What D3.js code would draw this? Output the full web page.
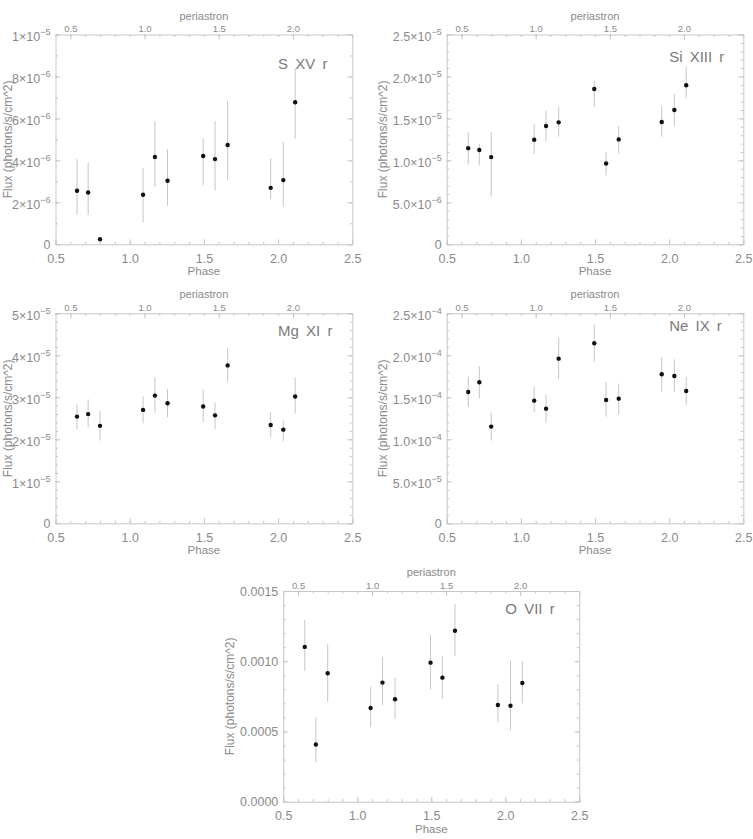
<!DOCTYPE html>
<html><head><meta charset="utf-8">
<script src="https://cdn.jsdelivr.net/npm/d3@7"></script>
<style>
body{margin:0;background:#fff;}
svg text{font-family:"Liberation Sans",Arial,sans-serif;}
</style></head><body>
<svg id="c" width="753" height="839"></svg>
<script>
// ---- data ----
const phase = [0.645, 0.72, 0.80, 1.09, 1.17, 1.255, 1.495, 1.575, 1.66, 1.95, 2.035, 2.115];

const sxvFlux = [2.55e-6, 2.47e-6, 0.24e-6, 2.36e-6, 4.16e-6, 3.03e-6, 4.21e-6, 4.06e-6, 4.73e-6, 2.69e-6, 3.06e-6, 6.77e-6];
const sxvLow  = [1.40e-6, 1.40e-6, 0.24e-6, 1.05e-6, 2.73e-6, 1.83e-6, 2.82e-6, 2.57e-6, 3.06e-6, 2.15e-6, 1.80e-6, 5.02e-6];
const sxvHigh = [4.06e-6, 3.90e-6, 0.24e-6, 3.63e-6, 5.86e-6, 4.53e-6, 5.04e-6, 5.88e-6, 6.85e-6, 4.10e-6, 4.88e-6, 8.40e-6];

const sixiiiFlux = [11.46e-6, 11.23e-6, 10.39e-6, 12.46e-6, 14.09e-6, 14.53e-6, 18.51e-6, 9.63e-6, 12.50e-6, 14.57e-6, 16.00e-6, 18.95e-6];
const sixiiiLow  = [9.51e-6, 9.43e-6, 5.69e-6, 10.79e-6, 12.30e-6, 12.82e-6, 16.36e-6, 8.20e-6, 10.83e-6, 12.82e-6, 14.09e-6, 17.40e-6];
const sixiiiHigh = [13.34e-6, 11.94e-6, 13.38e-6, 14.33e-6, 15.92e-6, 16.36e-6, 19.51e-6, 11.03e-6, 14.13e-6, 16.48e-6, 17.91e-6, 21.10e-6];

const mgxiFlux = [2.54e-5, 2.60e-5, 2.32e-5, 2.70e-5, 3.04e-5, 2.86e-5, 2.78e-5, 2.57e-5, 3.76e-5, 2.34e-5, 2.23e-5, 3.02e-5];
const mgxiLow  = [2.24e-5, 2.28e-5, 1.97e-5, 2.38e-5, 2.63e-5, 2.52e-5, 2.40e-5, 2.25e-5, 3.37e-5, 2.05e-5, 1.95e-5, 2.61e-5];
const mgxiHigh = [2.84e-5, 2.95e-5, 2.67e-5, 3.02e-5, 3.48e-5, 3.20e-5, 3.19e-5, 2.88e-5, 4.17e-5, 2.64e-5, 2.45e-5, 3.47e-5];

const neixFlux = [15.63e-5, 16.79e-5, 11.51e-5, 14.60e-5, 13.65e-5, 19.60e-5, 21.43e-5, 14.68e-5, 14.84e-5, 17.74e-5, 17.54e-5, 15.75e-5];
const neixLow  = [13.81e-5, 14.88e-5, 9.84e-5, 13.21e-5, 11.98e-5, 17.14e-5, 19.25e-5, 12.70e-5, 12.94e-5, 15.67e-5, 15.67e-5, 14.13e-5];
const neixHigh = [17.46e-5, 18.69e-5, 13.17e-5, 16.31e-5, 15.24e-5, 22.10e-5, 23.69e-5, 16.79e-5, 16.63e-5, 19.76e-5, 19.52e-5, 17.42e-5];

const oviiFlux = [11.02e-4, 4.07e-4, 9.14e-4, 6.67e-4, 8.48e-4, 7.29e-4, 9.90e-4, 8.83e-4, 12.17e-4, 6.88e-4, 6.83e-4, 8.45e-4];
const oviiLow  = [9.31e-4, 2.83e-4, 7.12e-4, 5.33e-4, 6.86e-4, 5.88e-4, 7.98e-4, 7.36e-4, 10.36e-4, 5.67e-4, 5.10e-4, 7.00e-4];
const oviiHigh = [12.93e-4, 6.00e-4, 11.21e-4, 8.19e-4, 10.31e-4, 8.83e-4, 11.86e-4, 10.38e-4, 14.07e-4, 8.38e-4, 10.00e-4, 10.00e-4];

const phaseTicks = [0.5, 1.0, 1.5, 2.0, 2.5];
const periTicks = [0.5, 1.0, 1.5, 2.0];

const sxvTicks = [0, 2e-6, 4e-6, 6e-6, 8e-6, 1e-5];
const sxvTickLabels = ["0", "2\u00d710^\u22126", "4\u00d710^\u22126", "6\u00d710^\u22126", "8\u00d710^\u22126", "1\u00d710^\u22125"];
const sixiiiTicks = [0, 5e-6, 1e-5, 1.5e-5, 2e-5, 2.5e-5];
const sixiiiTickLabels = ["0", "5.0\u00d710^\u22126", "1.0\u00d710^\u22125", "1.5\u00d710^\u22125", "2.0\u00d710^\u22125", "2.5\u00d710^\u22125"];
const mgxiTicks = [0, 1e-5, 2e-5, 3e-5, 4e-5, 5e-5];
const mgxiTickLabels = ["0", "1\u00d710^\u22125", "2\u00d710^\u22125", "3\u00d710^\u22125", "4\u00d710^\u22125", "5\u00d710^\u22125"];
const neixTicks = [0, 5e-5, 1e-4, 1.5e-4, 2e-4, 2.5e-4];
const neixTickLabels = ["0", "5.0\u00d710^\u22125", "1.0\u00d710^\u22124", "1.5\u00d710^\u22124", "2.0\u00d710^\u22124", "2.5\u00d710^\u22124"];
const oviiTicks = [0, 5e-4, 1e-3, 1.5e-3];
const oviiTickLabels = ["0.0000", "0.0005", "0.0010", "0.0015"];

const panelTitles = ["S XV r", "Si XIII r", "Mg XI r", "Ne IX r", "O VII r"];

// ---- layout ----
const panels = [
  {title: panelTitles[0], val: sxvFlux, lo: sxvLow, hi: sxvHigh, ymax: 1e-5, ticks: sxvTicks, labels: sxvTickLabels, minor: 1e-6, titleFrac: 0.86, box: [55.5, 34.5, 352.3, 244.3]},
  {title: panelTitles[1], val: sixiiiFlux, lo: sixiiiLow, hi: sixiiiHigh, ymax: 2.5e-5, ticks: sixiiiTicks, labels: sixiiiTickLabels, minor: 1e-6, titleFrac: 0.893, box: [446.7, 34.5, 743.3, 244.3]},
  {title: panelTitles[2], val: mgxiFlux, lo: mgxiLow, hi: mgxiHigh, ymax: 5e-5, ticks: mgxiTicks, labels: mgxiTickLabels, minor: 2e-6, titleFrac: 0.915, box: [55.5, 313.3, 352.3, 523.3]},
  {title: panelTitles[3], val: neixFlux, lo: neixLow, hi: neixHigh, ymax: 2.5e-4, ticks: neixTicks, labels: neixTickLabels, minor: 1e-5, titleFrac: 0.94, box: [446.7, 313.3, 743.3, 523.3]},
  {title: panelTitles[4], val: oviiFlux, lo: oviiLow, hi: oviiHigh, ymax: 1.5e-3, ticks: oviiTicks, labels: oviiTickLabels, minor: 1e-4, titleFrac: 0.915, box: [283.3, 591, 579.3, 801.7]}
];

const AX = "#c6c6c6", LAB = "#8a8a8a", FONT = '"Liberation Sans", Arial, sans-serif';
const svg = d3.select("#c");
const steps = (a, b, s) => d3.range(Math.round((b - a) / s) + 1).map(i => a + i * s);

function styleAxis(sel, fs) {
  sel.attr("font-family", FONT).attr("font-size", fs || 10);
  sel.selectAll("path,line").attr("stroke", AX).attr("stroke-width", 1);
  sel.selectAll("text").attr("fill", LAB);
}

panels.forEach(p => {
  const [L, T, R, B] = p.box;
  const g = svg.append("g");
  const x = d3.scaleLinear().domain([0.5, 2.5]).range([L, R]);
  const xt = d3.scaleLinear().domain([0.4, 2.4]).range([L, R]);
  const y = d3.scaleLinear().domain([0, p.ymax]).range([B, T]);

  const xMinor = steps(0.5, 2.5, 0.1);
  const xtMinor = steps(0.4, 2.4, 0.1);
  const yMinor = steps(0, p.ymax, p.minor);

  // minor ticks
  g.append("g").attr("transform", `translate(0,${B})`)
    .call(d3.axisBottom(x).tickValues(xMinor).tickSize(-2.5).tickFormat(""))
    .call(s => s.select(".domain").remove()).call(s => styleAxis(s));
  g.append("g").attr("transform", `translate(0,${T})`)
    .call(d3.axisTop(xt).tickValues(xtMinor).tickSize(-2.5).tickFormat(""))
    .call(s => s.select(".domain").remove()).call(s => styleAxis(s));
  g.append("g").attr("transform", `translate(${L},0)`)
    .call(d3.axisLeft(y).tickValues(yMinor).tickSize(-2.5).tickFormat(""))
    .call(s => s.select(".domain").remove()).call(s => styleAxis(s));
  g.append("g").attr("transform", `translate(${R},0)`)
    .call(d3.axisRight(y).tickValues(yMinor).tickSize(-2.5).tickFormat(""))
    .call(s => s.select(".domain").remove()).call(s => styleAxis(s));

  // major axes
  g.append("g").attr("transform", `translate(0,${B})`)
    .call(d3.axisBottom(x).tickValues(phaseTicks).tickSize(-5).tickSizeOuter(0).tickPadding(9.5).tickFormat(d3.format(".1f")))
    .call(s => styleAxis(s, 12.5));
  g.append("g").attr("transform", `translate(0,${T})`)
    .call(d3.axisTop(xt).tickValues(periTicks).tickSize(-5).tickSizeOuter(0).tickPadding(2.5).tickFormat(d3.format(".1f")))
    .call(s => styleAxis(s, 9.5));
  g.append("g").attr("transform", `translate(${L},0)`)
    .call(d3.axisLeft(y).tickValues(p.ticks).tickSize(-5).tickSizeOuter(0).tickFormat(""))
    .call(s => styleAxis(s));
  g.append("g").attr("transform", `translate(${R},0)`)
    .call(d3.axisRight(y).tickValues(p.ticks).tickSize(-5).tickSizeOuter(0).tickFormat(""))
    .call(s => styleAxis(s));

  // y tick labels (with superscript exponents)
  const lab = g.append("g").attr("fill", LAB).attr("font-size", 12.5).attr("text-anchor", "end");
  p.ticks.forEach((v, i) => {
    const parts = p.labels[i].split("^");
    const t = lab.append("text").attr("x", L - 5).attr("y", y(v) + (parts.length > 1 ? 6.5 : 4.5));
    t.append("tspan").text(parts[0]);
    if (parts.length > 1) t.append("tspan").attr("dy", -6).attr("font-size", 9).text(parts[1]);
  });
  const bb = lab.node().getBBox();

  // axis titles
  g.append("text").attr("x", (L + R) / 2).attr("y", B + 31).attr("text-anchor", "middle")
    .attr("font-size", 11.5).attr("fill", LAB).text("Phase");
  g.append("text").attr("x", (L + R) / 2).attr("y", T - 15).attr("text-anchor", "middle")
    .attr("font-size", 11).attr("fill", LAB).text("periastron");
  g.append("text").attr("transform", `translate(${Math.max(bb.x - 10, 7.5)},${(T + B) / 2}) rotate(-90)`)
    .attr("dy", "0.35em").attr("text-anchor", "middle")
    .attr("font-size", 12).attr("fill", LAB).text("Flux (photons/s/cm^2)");

  // panel title
  g.append("text").attr("x", x(2.0)).attr("y", y(p.ymax * p.titleFrac)).attr("dy", "0.35em")
    .attr("font-size", 15).attr("fill", "#7a7a7a").attr("word-spacing", 3).text(p.title);

  // error bars and points
  g.append("g").selectAll("line").data(phase).join("line")
    .attr("x1", d => x(d)).attr("x2", d => x(d))
    .attr("y1", (d, i) => y(p.lo[i])).attr("y2", (d, i) => y(p.hi[i]))
    .attr("stroke", AX).attr("stroke-width", 1);
  g.append("g").selectAll("circle").data(phase).join("circle")
    .attr("cx", d => x(d)).attr("cy", (d, i) => y(p.val[i])).attr("r", 2.2).attr("fill", "#111");
});
</script>
</body></html>
